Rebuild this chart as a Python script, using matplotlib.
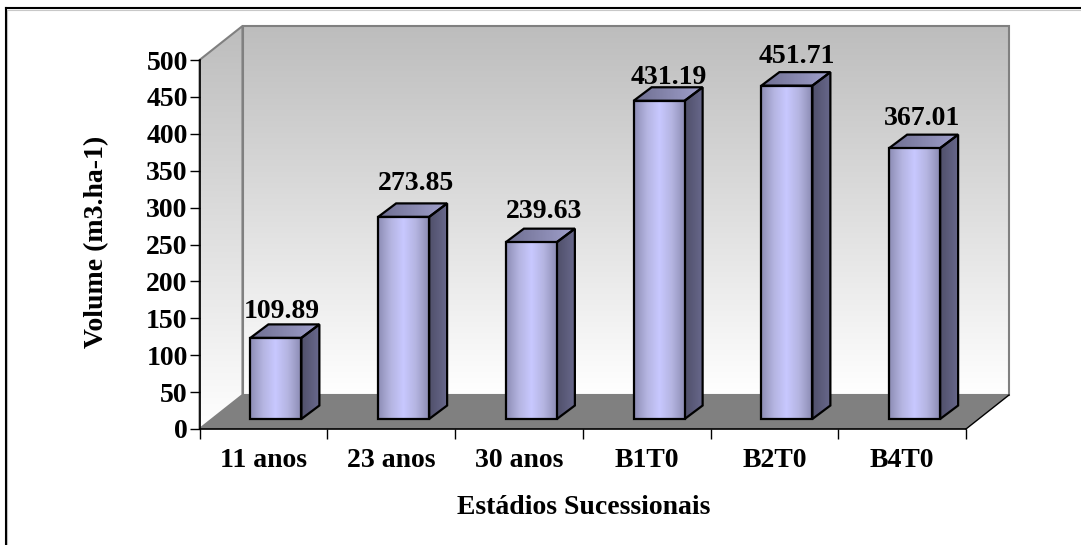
import matplotlib
matplotlib.use('Agg')
import matplotlib.pyplot as plt
import numpy as np
from matplotlib.patches import Polygon

categorias = ['11 anos', '23 anos', '30 anos', 'B1T0', 'B2T0', 'B4T0']
volumes = [109.89, 273.85, 239.63, 431.19, 451.71, 367.01]
yticks = [0, 50, 100, 150, 200, 250, 300, 350, 400, 450, 500]
# ajuste (px) de cada rotulo em relacao ao topo da barra
folga_rotulo = [0, 7, 5, -3, 3, 4]
desvio_rotulo = [-3.5, 3.5, 3.5, 0.5, 0.5, -1.5]

W, H = 1081, 545
plt.rcParams['font.family'] = 'Liberation Serif'
plt.rcParams['font.weight'] = 'bold'

fig = plt.figure(figsize=(W / 100, H / 100), dpi=100)
# area do grafico em pixels: x 199.5-966, y 60-429
ax = fig.add_axes([199.5 / W, 1 - 429 / H, 766.5 / W, 369 / H])
ax.set_xlim(0, 6)
ax.set_ylim(0, 500)
ax.set_facecolor('none')

# pixels -> unidades dos dados
ux = 6 / 766.5
uy = 500 / 369
dx_parede, dy_parede = 43 * ux, 34 * uy
dx_barra, dy_barra = 18 * ux, 13.5 * uy
x_base, y_base = 12.5 * ux, 10 * uy
larg = 51 * ux


def grad(verts, cores, vertical=True, z=1, borda=None, lw=1.0):
    cores = np.array([matplotlib.colors.to_rgb(c) for c in cores])
    pos = np.linspace(0, 1, 256)
    vals = np.stack([np.interp(pos, np.linspace(0, 1, len(cores)), cores[:, i]) for i in range(3)], axis=-1)
    img = vals[:, None, :] if vertical else vals[None, :, :]
    xs = [v[0] for v in verts]
    ys = [v[1] for v in verts]
    im = ax.imshow(img, extent=[min(xs), max(xs), min(ys), max(ys)], origin='lower',
                   aspect='auto', zorder=z, interpolation='bilinear')
    p = Polygon(verts, closed=True, fc='none', ec=borda if borda else 'none', lw=lw, zorder=z + 0.1,
                clip_on=False, joinstyle='miter')
    ax.add_patch(p)
    im.set_clip_box(fig.bbox)
    im.set_clip_path(p)


# paredes
cores_parede = ['#ffffff', '#bdbdbd']
grad([(dx_parede, dy_parede), (6 + dx_parede, dy_parede), (6 + dx_parede, 500 + dy_parede),
      (dx_parede, 500 + dy_parede)], cores_parede, z=1, borda='#808080', lw=1.5)
grad([(0, 0), (dx_parede, dy_parede), (dx_parede, 500 + dy_parede), (0, 500)],
     cores_parede, z=1, borda='#808080', lw=1.5)
# chao
ax.add_patch(Polygon([(0, 0), (6, 0), (6 + dx_parede, dy_parede), (dx_parede, dy_parede)],
                     closed=True, fc='#808080', ec='none', zorder=2, clip_on=False))
ax.plot([6, 6 + dx_parede], [0, dy_parede], color='black', lw=1, zorder=2.5, clip_on=False)

frente = ['#8c8cb4', '#b4b4e0', '#c8c8ff', '#b4b4e0', '#8c8cb4']
lado = ['#50506a', '#68688c']
topo = ['#6e6e90', '#a0a0cc']

x = np.arange(len(categorias)) + 0.5
for xi, v, folga, desvio in zip(x, volumes, folga_rotulo, desvio_rotulo):
    esq = xi - larg / 2 + x_base
    dir_ = xi + larg / 2 + x_base
    y0 = y_base
    y1 = y_base + v
    grad([(esq, y0), (dir_, y0), (dir_, y1), (esq, y1)], frente, vertical=False, z=5, borda='black', lw=1.6)
    grad([(dir_, y0), (dir_ + dx_barra, y0 + dy_barra), (dir_ + dx_barra, y1 + dy_barra), (dir_, y1)],
         lado, vertical=False, z=4, borda='black', lw=1.6)
    grad([(esq, y1), (dir_, y1), (dir_ + dx_barra, y1 + dy_barra), (esq + dx_barra, y1 + dy_barra)],
         topo, vertical=False, z=4, borda='black', lw=1.6)
    ax.text(xi + x_base + dx_barra / 2 + desvio * ux, y1 + dy_barra + folga * uy, f'{v:.2f}', ha='center', va='bottom',
            fontsize=20, fontweight='bold', zorder=8, clip_on=False)

for s in ['top', 'right']:
    ax.spines[s].set_visible(False)
ax.spines['left'].set_linewidth(1.2)
ax.spines['bottom'].set_linewidth(1.2)
ax.spines['left'].set_zorder(6)
ax.spines['bottom'].set_zorder(6)

ax.set_yticks(yticks)
ax.set_xticks(np.arange(7))
ax.set_xticklabels([])
ax.set_xticks(x, minor=True)
ax.set_xticklabels(categorias, minor=True)
ax.tick_params(axis='x', which='minor', length=0, pad=14, labelsize=20)
ax.tick_params(axis='x', which='major', length=7, width=1, direction='out')
ax.tick_params(axis='y', length=7, width=1, pad=1.5, labelsize=20)

ax.set_xlabel('Estádios Sucessionais', fontsize=20, fontweight='bold')
ax.xaxis.set_label_coords((584 - 199.5) / 766.5, -(507 - 429) / 369)
ax.xaxis.label.set_verticalalignment('center')
ax.set_ylabel('Volume (m3.ha-1)', fontsize=20, fontweight='bold')
ax.yaxis.set_label_coords((97 - 199.5) / 766.5, (429 - 242) / 369)
ax.yaxis.label.set_verticalalignment('center')

# moldura da figura (so topo e esquerda aparecem)
fig.add_artist(plt.Line2D([7.5 / W, 7.5 / W], [0, 1 - 9.5 / H], color='#c8c8c8', lw=0.8))
fig.add_artist(plt.Line2D([7.5 / W, 1], [1 - 9.5 / H, 1 - 9.5 / H], color='#c8c8c8', lw=0.8))
fig.add_artist(plt.Line2D([6 / W, 6 / W], [0, 1 - 8 / H], color='black', lw=1.5))
fig.add_artist(plt.Line2D([6 / W, 1], [1 - 8 / H, 1 - 8 / H], color='black', lw=1.5))

fig.savefig('out.png', dpi=100)
